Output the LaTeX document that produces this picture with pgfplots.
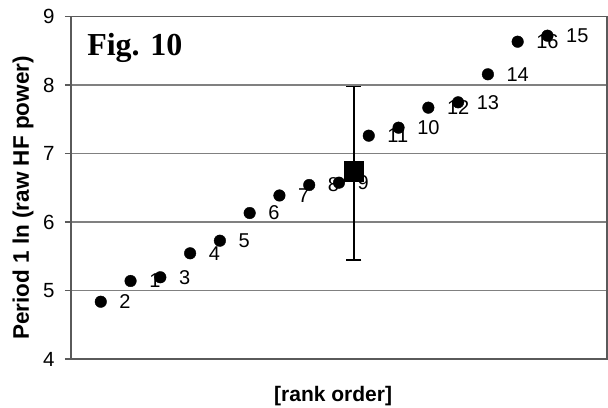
\documentclass[border=0pt]{standalone}
\usepackage{fontspec}
\setmainfont{Liberation Sans}
\newfontfamily\timesfont{Liberation Serif}
\usepackage{pgfplots}
\pgfplotsset{compat=1.18}
\usepackage{pgfplotstable}
\definecolor{gridgray}{RGB}{128,128,128}
\definecolor{axgray}{RGB}{90,90,90}

\pgfplotstableread{
x y lab
1 4.836 2
2 5.139 1
3 5.193 3
4 5.543 4
5 5.727 5
6 6.131 6
7 6.387 7
8 6.540 8
9 6.574 9
10 7.260 11
11 7.377 10
12 7.669 12
13 7.747 13
14 8.156 14
15 8.632 16
16 8.720 15
}\pts

\begin{document}
\begin{tikzpicture}
\begin{axis}[
  scale only axis, width=536pt, height=342.5pt,
  xmin=0, xmax=18, ymin=4, ymax=9,
  xtick=\empty, ytick={4,5,6,7,8,9},
  ymajorgrids, grid style={draw=gridgray, line width=1.1pt},
  axis line style={draw=axgray, line width=1.2pt},
  tick align=outside, major tick length=6pt,
  tick style={draw=axgray, line width=1.1pt},
  /pgf/number format/assume math mode=true,
  y tick label style={font=\fontsize{20.5}{20.5}\selectfont, xshift=-7pt},
  xlabel={[rank order]},
  ylabel={Period 1 ln (raw HF power)},
  xlabel style={at={(axis description cs:0.489,-0.107)}, anchor=center, font=\bfseries\fontsize{21}{21}\selectfont},
  ylabel style={at={(axis description cs:-0.0896,0.47)}, anchor=center, font=\bfseries\fontsize{22.5}{22.5}\selectfont},
  clip=false,
]
\addplot[black, line width=1.5pt, mark=square*, mark size=9.5pt, mark options={solid, fill=black},
  error bars/.cd, y dir=both, y explicit,
  error mark options={rotate=90, mark size=7.5pt, line width=1.5pt, black},
  error bar style={line width=1.5pt, black}]
  coordinates {(9.5,6.734) += (0,1.241) -= (0,1.289)};
\addplot[only marks, mark=*, mark size=5.8pt, black,
  nodes near coords, point meta=explicit symbolic,
  every node near coord/.style={anchor=west, xshift=18.5pt, inner sep=0pt, font=\fontsize{20}{20}\selectfont, text=black}]
  table[x=x, y=y, meta=lab] {\pts};
\node[anchor=base west, inner sep=0pt, font=\timesfont\bfseries\fontsize{32}{32}\selectfont] at (axis description cs:0.03,0.885) {Fig. 10};
\end{axis}
\pgfresetboundingbox
\path[use as bounding box] ([xshift=-71pt,yshift=-49pt]current axis.south west) rectangle ([xshift=1pt,yshift=16.5pt]current axis.north east);
\end{tikzpicture}
\end{document}
